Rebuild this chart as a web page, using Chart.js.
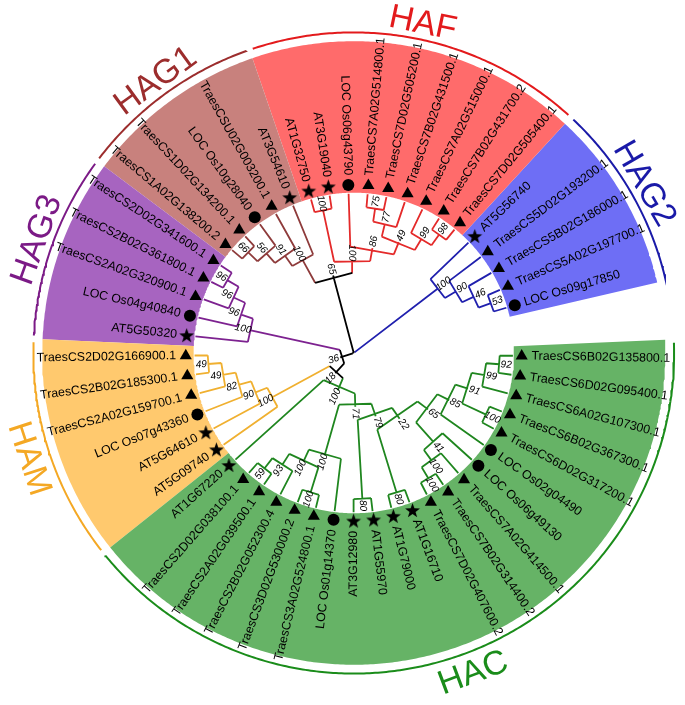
<!DOCTYPE html>
<html><head><meta charset="utf-8">
<script src="https://cdn.jsdelivr.net/npm/chart.js@4.4.1/dist/chart.umd.min.js"></script>
<style>html,body{margin:0;padding:0;background:#fff}#wrap{width:685px;height:705px;position:relative}</style>
</head><body><div id="wrap"><canvas id="c"></canvas></div>
<script>
// ---------------- DATA ----------------
const leafNames = [
 'TraesCS6B02G135800.1','TraesCS6D02G095400.1','TraesCS6A02G107300.1','TraesCS6B02G367300.1','TraesCS6D02G317200.1',
 'LOC Os02g04490','LOC Os06g49130','TraesCS7A02G414500.1','TraesCS7B02G314400.2','TraesCS7D02G407600.2',
 'AT1G16710','AT1G79000','AT1G55970','AT3G12980','LOC Os01g14370',
 'TraesCS3A02G524800.1','TraesCS3D02G530000.2','TraesCS2B02G052300.4','TraesCS2A02G039500.1','TraesCS2D02G038100.1',
 'AT1G67220',
 'AT5G09740','AT5G64610','LOC Os07g43360','TraesCS2A02G159700.1','TraesCS2B02G185300.1','TraesCS2D02G166900.1',
 'AT5G50320','LOC Os04g40840','TraesCS2A02G320900.1','TraesCS2B02G361800.1','TraesCS2D02G341600.1',
 'TraesCS1A02G138200.2','TraesCS1D02G134200.1','LOC Os10g28040','TraesCSU02G003200.1','AT3G54610',
 'AT1G32750','AT3G19040','LOC Os06g43790','TraesCS7A02G514800.1','TraesCS7D02G505200.1','TraesCS7B02G431500.1',
 'TraesCS7A02G515000.1','TraesCS7B02G431700.2','TraesCS7D02G505400.1',
 'AT5G56740','TraesCS5D02G193200.1','TraesCS5B02G186000.1','TraesCS5A02G197700.1','LOC Os09g17850'
];
const cladeNames = ['HAC','HAM','HAG3','HAG1','HAF','HAG2'];
const cladeSizes = [21, 6, 5, 5, 9, 5];
// topology (leaf indices into leafNames) with bootstrap values after each ")"
const cladeTrees = [
 '(((((((((0,1)92,2)99,(3,4)100)91,5)85,(6,(7,(8,9)100)100)41)65,(10,11)80)22,(12,13)80)79,(14,((15,16)100,(17,(18,19)59)93)100)100)71,20)100',
 '(((((26,25)49,24)49,23)82,22)90,21)100',
 '((((31,30)96,29)96,28)96,27)100',
 '((((32,33)66,34)56,35)91,36)100',
 '((37,38)100,(39,(((40,41)75,42)77,(43,(44,45)98)99)49)86)100',
 '(46,(47,(48,(49,50)53)46)90)100'
];
const rootTree = '(((HAC,HAM)18,HAG3)36,(HAG1,HAF)65,HAG2)';

// ---------------- STYLE / LAYOUT ----------------
const lineCol = {HAC:'#1f861f', HAM:'#f0b030', HAG3:'#7d2290', HAG1:'#8e3b3b', HAF:'#e42a2a', HAG2:'#2020ae'};
const fillCol = {HAC:'#66b366', HAM:'#ffc96e', HAG3:'#a764c0', HAG1:'#c8817d', HAF:'#ff6b6b', HAG2:'#6e6ef5'};
const textCol = {HAC:'#1a8c1a', HAM:'#f4a824', HAG3:'#7b1a86', HAG1:'#9c2d2d', HAF:'#e31a1c', HAG2:'#1a1aa8'};
const A0 = 1, D = 6.85;          // leaf angles (deg, clockwise from 3 o'clock)
const R_LEAF = 163, STEP = 13.5;  // cladogram radii
const R_MARK = 172, R_TEXT = 182, R_W_IN = 164, R_W_OUT = 319, R_ARC = 328;

const leafClade = [];
cladeNames.forEach((c, k) => { for (let j = 0; j < cladeSizes[k]; j++) leafClade.push(c); });

function parseNewick(s) {
  let i = 0;
  function node() {
    if (s[i] === '(') {
      i++;
      const ch = [node()];
      while (s[i] === ',') { i++; ch.push(node()); }
      i++;
      let lab = '';
      while (i < s.length && !',()'.includes(s[i])) lab += s[i++];
      return {children: ch, boot: lab};
    }
    let lab = '';
    while (i < s.length && !',()'.includes(s[i])) lab += s[i++];
    return {name: lab};
  }
  return node();
}
function expand(n) {
  if (n.children) { n.children = n.children.map(expand); return n; }
  const k = cladeNames.indexOf(n.name);
  if (k >= 0) return expand(parseNewick(cladeTrees[k]));
  return {idx: parseInt(n.name, 10)};
}
const root = expand(parseNewick(rootTree));

function layout(n) {
  if (n.children) {
    n.children.forEach(layout);
    n.h = 1 + Math.max(...n.children.map(c => c.h));
    const as = n.children.map(c => c.a);
    n.a = (Math.min(...as) + Math.max(...as)) / 2;
    n.leaves = [].concat(...n.children.map(c => c.leaves));
  } else {
    n.h = 0; n.a = A0 + n.idx * D; n.leaves = [n.idx];
  }
  n.r = Math.max(0.5, R_LEAF - STEP * n.h);
  const cl = new Set(n.leaves.map(i => leafClade[i]));
  n.clade = cl.size === 1 ? [...cl][0] : null;
}
layout(root);

const toXY = (r, a) => { const t = a * Math.PI / 180; return {x: r * Math.cos(t), y: -r * Math.sin(t)}; };

const segs = {};
function addSeg(cl, pts) {
  const key = cl || 'none';
  (segs[key] = segs[key] || []).push(...pts.map(p => toXY(p[0], p[1])), {x: null, y: null});
}
const boots = [];
function collect(n) {
  if (!n.children) return;
  n.children.forEach(c => { addSeg(c.clade, [[n.r, c.a], [c.r, c.a]]); collect(c); });
  const sorted = n.children.map(c => c.a).sort((a, b) => a - b);
  addSeg(n.clade, sorted.map(a => [n.r, a]));
  if (n.boot) boots.push({r: n.r + 7, a: n.a, t: n.boot});
}
collect(root);

const datasets = [];
// markers
const starCanvas = (() => {
  const c = document.createElement('canvas'); c.width = 17; c.height = 17;
  const g = c.getContext('2d'); g.fillStyle = '#000'; g.beginPath();
  for (let k = 0; k < 10; k++) {
    const rr = k % 2 ? 3.2 : 7.8, t = -Math.PI / 2 + k * Math.PI / 5;
    g.lineTo(8.5 + rr * Math.cos(t), 8.9 + rr * Math.sin(t));
  }
  g.closePath(); g.fill(); return c;
})();
const markTypes = [
  {test: n => n.startsWith('Traes'), style: 'triangle', radius: 7},
  {test: n => n.startsWith('LOC'), style: 'circle', radius: 6},
  {test: n => n.startsWith('AT'), style: starCanvas, radius: 8}
];
markTypes.forEach(m => {
  const pts = [];
  leafNames.forEach((nm, i) => { if (m.test(nm)) pts.push(toXY(R_MARK, A0 + i * D)); });
  datasets.push({data: pts, pointStyle: m.style, pointRadius: m.radius, pointHoverRadius: m.radius,
    pointBackgroundColor: '#000', pointBorderColor: '#000', pointBorderWidth: 0, showLine: false, order: 1});
});
// branches
Object.keys(segs).forEach(k => {
  datasets.push({data: segs[k], showLine: true, spanGaps: false, borderColor: k === 'none' ? '#000' : lineCol[k],
    borderWidth: 1.8, pointRadius: 0, fill: false, order: 3});
});
// clade ranges, wedges and outer arcs
let start = 0;
const cladeSpan = {};
cladeNames.forEach((c, k) => {
  const aFirst = A0 + start * D, aLast = A0 + (start + cladeSizes[k] - 1) * D;
  start += cladeSizes[k];
  const a0 = aFirst - D / 2, a1 = aLast + D / 2;
  cladeSpan[c] = [a0, a1];
  const poly = [];
  for (let a = a0; a <= a1 + 1e-6; a += 0.5) poly.push(toXY(R_W_IN, a));
  poly.push(toXY(R_W_IN, a1));
  for (let a = a1; a >= a0 - 1e-6; a -= 0.5) poly.push(toXY(R_W_OUT, a));
  poly.push(toXY(R_W_OUT, a0));
  poly.push(toXY(R_W_IN, a0));
  datasets.push({data: poly, showLine: true, borderColor: 'rgba(0,0,0,0)', borderWidth: 0,
    backgroundColor: fillCol[c], fill: 'shape', pointRadius: 0, order: 9});
  const arc = [];
  for (let a = a0 + 0.6; a <= a1 - 0.6; a += 0.5) arc.push(toXY(R_ARC, a));
  arc.push(toXY(R_ARC, a1 - 0.6));
  datasets.push({data: arc, showLine: true, borderColor: textCol[c], borderWidth: 2, pointRadius: 0, fill: false, order: 4});
});

const textPlugin = {
  id: 'treeText',
  afterDatasetsDraw(chart) {
    const ctx = chart.ctx, xs = chart.scales.x, ys = chart.scales.y;
    const P = (r, a) => { const q = toXY(r, a); return [xs.getPixelForValue(q.x), ys.getPixelForValue(q.y)]; };
    const radialText = (txt, r, a, align) => {
      const [px, py] = P(r, a);
      const right = Math.cos(a * Math.PI / 180) >= 0;
      ctx.save(); ctx.translate(px, py);
      ctx.rotate((right ? a : a + 180) * Math.PI / 180);
      ctx.textAlign = align || (right ? 'left' : 'right');
      ctx.textBaseline = 'middle';
      ctx.fillText(txt, 0, 0);
      ctx.restore();
    };
    ctx.fillStyle = '#000';
    ctx.font = "12.4px 'Liberation Sans', Arial, sans-serif";
    leafNames.forEach((nm, i) => radialText(nm, R_TEXT, A0 + i * D));
    ctx.font = "italic 10px 'Liberation Sans', Arial, sans-serif";
    boots.forEach(b => radialText(b.t, b.r, b.a, 'center'));
    ctx.font = "34px 'Liberation Sans', Arial, sans-serif";
    cladeNames.forEach(c => {
      const a = (cladeSpan[c][0] + cladeSpan[c][1]) / 2;
      const top = Math.sin(a * Math.PI / 180) < 0;
      const [px, py] = P(top ? 344 : 350, a);
      ctx.save(); ctx.translate(px, py);
      ctx.rotate((top ? a + 90 : a - 90) * Math.PI / 180);
      ctx.fillStyle = textCol[c]; ctx.textAlign = 'center'; ctx.textBaseline = 'middle';
      ctx.fillText(c, 0, 0);
      ctx.restore();
    });
  }
};

new Chart(document.getElementById('c'), {
  type: 'scatter',
  data: {datasets},
  options: {
    responsive: true, maintainAspectRatio: false, animation: false,
    layout: {padding: 0},
    plugins: {legend: {display: false}, tooltip: {enabled: false}},
    events: [],
    scales: {
      x: {type: 'linear', min: -354, max: 331, display: false},
      y: {type: 'linear', min: -352, max: 353, display: false}
    }
  },
  plugins: [textPlugin]
});
</script></body></html>
